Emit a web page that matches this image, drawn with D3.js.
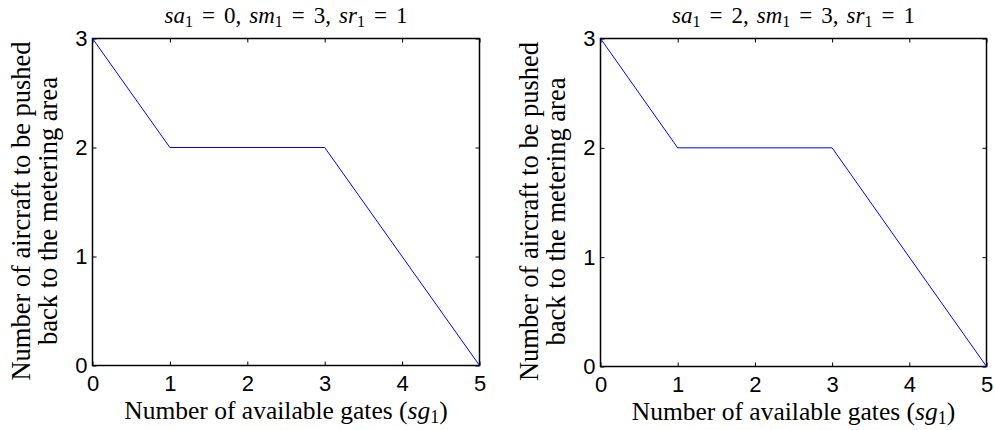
<!DOCTYPE html>
<html>
<head>
<meta charset="utf-8">
<script src="https://cdn.jsdelivr.net/npm/d3@7"></script>
<style>
  html, body { margin: 0; padding: 0; background: #fff; }
  svg { display: block; }
</style>
</head>
<body>
<svg id="chart" width="994" height="430"></svg>
<script>
// Gates available vs. aircraft pushed back
const gates = [0, 1, 3, 5];
const pushedA = [3, 2, 2, 0];
const pushedB = [3, 2, 2, 0];
const xTicks = [0, 1, 2, 3, 4, 5];
const yTicks = [0, 1, 2, 3];
const panels = [
  { sa: "0", sm: "3", sr: "1", values: pushedA, left: 92.5, right: 479.5, top: 38.5, bottom: 365.5 },
  { sa: "2", sm: "3", sr: "1", values: pushedB, left: 600.5, right: 986.5, top: 38.5, bottom: 366.5 }
];

const SERIF = "'Liberation Serif', 'DejaVu Serif', 'Times New Roman', serif";
const SANS = "'Liberation Sans', Arial, Helvetica, sans-serif";

const svg = d3.select("#chart");

panels.forEach(p => {
  const x = d3.scaleLinear().domain([0, 5]).range([p.left, p.right]);
  const y = d3.scaleLinear().domain([0, 3]).range([p.bottom, p.top]);
  const g = svg.append("g");

  // inward ticks on all four sides
  const tickLen = 4;
  const styleAxis = a => {
    a.select(".domain").remove();
    a.attr("font-family", SANS).attr("font-size", 22);
    a.selectAll(".tick line").attr("stroke", "#000").attr("stroke-width", 1);
    a.selectAll(".tick text").attr("fill", "#000");
  };
  g.append("g").attr("transform", `translate(0,${p.bottom})`)
    .call(d3.axisBottom(x).tickValues(xTicks).tickFormat(d3.format("d")).tickSizeInner(-tickLen).tickSizeOuter(0).tickPadding(10))
    .call(styleAxis);
  g.append("g").attr("transform", `translate(0,${p.top})`)
    .call(d3.axisTop(x).tickValues(xTicks).tickFormat("").tickSizeInner(-tickLen).tickSizeOuter(0))
    .call(styleAxis);
  g.append("g").attr("transform", `translate(${p.left},0)`)
    .call(d3.axisLeft(y).tickValues(yTicks).tickFormat(d3.format("d")).tickSizeInner(-tickLen).tickSizeOuter(0).tickPadding(5))
    .call(styleAxis);
  g.append("g").attr("transform", `translate(${p.right},0)`)
    .call(d3.axisRight(y).tickValues(yTicks).tickFormat("").tickSizeInner(-tickLen).tickSizeOuter(0))
    .call(styleAxis);

  // frame
  g.append("rect")
    .attr("x", p.left).attr("y", p.top)
    .attr("width", p.right - p.left).attr("height", p.bottom - p.top)
    .attr("fill", "none").attr("stroke", "#000").attr("stroke-width", 1.5);

  // series line
  const line = d3.line().x((d, i) => x(gates[i])).y(d => y(d));
  g.append("path").datum(p.values)
    .attr("d", line).attr("fill", "none").attr("stroke", "#0000ff").attr("stroke-width", 1);

  const cx = (p.left + p.right) / 2;
  const cy = (p.top + p.bottom) / 2;

  // title, typeset as math with wide relation spacing
  const t = g.append("text").attr("font-family", SERIF).attr("font-size", 23)
    .attr("x", cx).attr("y", 23).attr("text-anchor", "middle");
  const term = (name, val, first, last) => {
    t.append("tspan").attr("font-style", "italic").attr("dx", first ? 0 : 8).text(name);
    t.append("tspan").attr("font-size", 16).attr("dy", 4).text("1");
    t.append("tspan").attr("dy", -4).attr("dx", 9).text("=");
    t.append("tspan").attr("dx", 9).text(val + (last ? "" : ","));
  };
  term("sa", p.sa, true, false);
  term("sm", p.sm, false, false);
  term("sr", p.sr, false, true);

  // x axis label
  const xl = g.append("text").attr("font-family", SERIF).attr("font-size", 25.5)
    .attr("x", cx).attr("y", p.bottom + 53.5).attr("text-anchor", "middle");
  xl.append("tspan").text("Number of available gates (");
  xl.append("tspan").attr("font-style", "italic").text("sg");
  xl.append("tspan").attr("font-size", 18).attr("dy", 4).text("1");
  xl.append("tspan").attr("dy", -4).text(")");

  // y axis label, two lines
  const yl = g.append("text").attr("font-family", SERIF).attr("font-size", 26.5)
    .attr("transform", `translate(${p.left - 63},${cy + 9}) rotate(-90)`).attr("text-anchor", "middle");
  yl.append("tspan").attr("x", 0).attr("y", 0).text("Number of aircraft to be pushed");
  yl.append("tspan").attr("x", 0).attr("y", 27).text("back to the metering area");
});
</script>
</body>
</html>
